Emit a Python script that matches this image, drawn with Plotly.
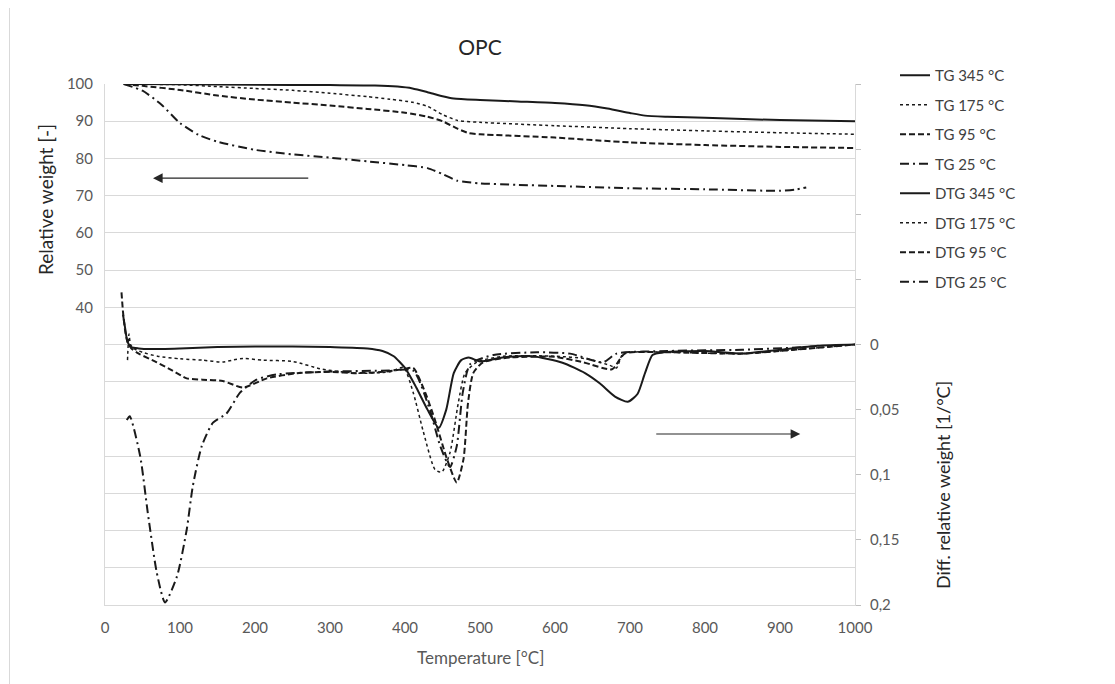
import plotly.graph_objects as go

# ---------------- data ----------------
tg345_t = [25, 100, 200, 300, 360, 390, 410, 430, 450, 465, 500, 550, 600, 640, 670, 700, 720, 750, 800, 900, 1000]
tg345_w = [100, 99.9, 99.8, 99.7, 99.6, 99.3, 98.8, 97.8, 96.7, 96.1, 95.7, 95.3, 94.9, 94.3, 93.4, 92.2, 91.5, 91.2, 90.9, 90.3, 90.0]

tg175_t = [25, 100, 150, 200, 250, 300, 350, 380, 410, 430, 450, 470, 500, 600, 700, 800, 900, 1000]
tg175_w = [100, 99.8, 99.3, 98.8, 98.3, 97.5, 96.6, 95.9, 95.1, 94.0, 91.8, 90.2, 89.7, 88.8, 88.0, 87.4, 86.9, 86.5]

tg95_t = [25, 50, 100, 150, 200, 250, 300, 350, 400, 430, 450, 470, 485, 500, 600, 700, 800, 900, 1000]
tg95_w = [100, 99.5, 98.4, 96.9, 95.8, 95.0, 94.2, 93.3, 92.3, 91.2, 90.0, 88.0, 86.8, 86.5, 85.6, 84.3, 83.6, 83.1, 82.8]

tg25_t = [25, 50, 75, 100, 125, 150, 200, 250, 300, 350, 400, 430, 450, 470, 500, 550, 600, 700, 800, 900, 920, 935]
tg25_w = [100, 98.2, 94.5, 89.5, 86.3, 84.5, 82.3, 81.1, 80.2, 79.2, 78.2, 77.4, 75.8, 74.0, 73.3, 72.9, 72.6, 72.0, 71.7, 71.3, 71.6, 72.2]

dtg345_t = [24, 27, 30, 35, 45, 60, 100, 150, 200, 250, 300, 350, 370, 385, 400, 415, 430, 445, 455, 465, 475, 485, 500,
            530, 570, 610, 640, 660, 680, 697, 710, 720, 730, 745, 800, 850, 900, 950, 1000]
dtg345_v = [-0.023, -0.012, -0.002, 0.002, 0.003, 0.0035, 0.003, 0.002, 0.0015, 0.0015, 0.002, 0.003, 0.005, 0.009, 0.018,
            0.033, 0.050, 0.064, 0.050, 0.022, 0.012, 0.010, 0.013, 0.010, 0.009, 0.014, 0.022, 0.030, 0.040, 0.044, 0.038,
            0.022, 0.008, 0.006, 0.005, 0.007, 0.004, 0.001, 0.0]

dtg175_t = [30, 32, 34, 38, 50, 70, 100, 130, 157, 170, 184, 210, 250, 290, 336, 380, 398, 411, 424, 440, 449, 460, 471,
            480, 496, 531, 600, 642, 673, 682, 691, 750, 850, 900, 1000]
dtg175_v = [0.012, -0.008, 0.0, 0.003, 0.006, 0.009, 0.011, 0.012, 0.0135, 0.012, 0.0107, 0.012, 0.013, 0.019, 0.022, 0.021,
            0.0175, 0.037, 0.066, 0.096, 0.098, 0.083, 0.045, 0.022, 0.0135, 0.009, 0.009, 0.011, 0.016, 0.018, 0.007,
            0.006, 0.007, 0.005, 0.0]

dtg95_t = [22, 24, 27, 30, 35, 45, 69, 90, 109, 130, 157, 184, 216, 256, 300, 336, 370, 397, 411, 427, 440, 456, 469, 478,
           484, 491, 504, 540, 600, 638, 676, 693, 750, 850, 900, 1000]
dtg95_v = [-0.040, -0.025, -0.010, -0.002, 0.003, 0.007, 0.0137, 0.020, 0.026, 0.027, 0.028, 0.033, 0.026, 0.022, 0.021,
           0.022, 0.021, 0.019, 0.018, 0.037, 0.058, 0.088, 0.106, 0.088, 0.045, 0.022, 0.0137, 0.010, 0.0095, 0.0137,
           0.019, 0.007, 0.006, 0.007, 0.005, 0.0]

dtg25_t = [29, 33, 47, 57, 69, 80, 96, 109, 117, 129, 144, 162, 180, 202, 229, 291, 380, 411, 433, 447, 460, 469, 477,
           487, 518, 576, 620, 664, 682, 750, 850, 935]
dtg25_v = [0.058, 0.055, 0.086, 0.129, 0.175, 0.198, 0.178, 0.142, 0.109, 0.078, 0.060, 0.053, 0.037, 0.027, 0.023, 0.021,
           0.020, 0.020, 0.050, 0.078, 0.094, 0.078, 0.037, 0.015, 0.008, 0.006, 0.007, 0.0137, 0.007, 0.005, 0.004, 0.002]

x_ticks = [0, 100, 200, 300, 400, 500, 600, 700, 800, 900, 1000]
left_ticks = [-40, -30, -20, -10, 0, 10, 20, 30, 40, 50, 60, 70, 80, 90, 100]
left_labels = ["", "", "", "", "", "", "", "", "40", "50", "60", "70", "80", "90", "100"]
right_ticks = [-0.2, -0.15, -0.1, -0.05, 0, 0.05, 0.1, 0.15, 0.2]
right_labels = ["", "", "", "", "0", "0,05", "0,1", "0,15", "0,2"]

# ---------------- figure ----------------
FONT = "Lato"
TXT = "#595959"
INK = "#1a1a1a"

# page body has an 8px offset; plot area placed so that it lands on x 105..855, y 84..605
OFF = 8
PL, PR, PT, PB = 105 - OFF, 855 - OFF, 84 - OFF, 605 - OFF
W, H = 1115, 684

fig = go.Figure()

series = [
    ("TG 345 °C", tg345_t, tg345_w, "y", "solid", 2.0),
    ("TG 175 °C", tg175_t, tg175_w, "y", "dot", 1.5),
    ("TG 95 °C", tg95_t, tg95_w, "y", "6px,3px", 2.0),
    ("TG 25 °C", tg25_t, tg25_w, "y", "9px,4px,2px,4px", 2.0),
    ("DTG 345 °C", dtg345_t, dtg345_v, "y2", "solid", 2.0),
    ("DTG 175 °C", dtg175_t, dtg175_v, "y2", "dot", 1.5),
    ("DTG 95 °C", dtg95_t, dtg95_v, "y2", "6px,3px", 2.0),
    ("DTG 25 °C", dtg25_t, dtg25_v, "y2", "9px,4px,2px,4px", 2.0),
]
for i, (name, xs, ys, ax, dash, w) in enumerate(series):
    fig.add_trace(go.Scatter(
        x=xs, y=ys, name=name, mode="lines", yaxis=ax,
        legendgroup=f"g{i}",
        line=dict(color=INK, width=w, dash=dash, shape="spline", smoothing=0.6),
    ))

fig.update_layout(
    width=W, height=H,
    margin=dict(l=PL, r=W - PR, t=PT, b=H - PB, autoexpand=False),
    paper_bgcolor="white", plot_bgcolor="white",
    font=dict(family=FONT, size=15, color=TXT),
    title=dict(text="OPC", x=(480 - OFF) / W, xanchor="center", y=1 - (48 - OFF) / H, yanchor="middle",
               font=dict(family=FONT, size=21, color="#262626")),
    xaxis=dict(range=[0, 1000], tickvals=x_ticks, ticktext=[str(v) for v in x_ticks],
               showgrid=False, zeroline=False, showline=True, linecolor="#d9d9d9", linewidth=1,
               ticks="", ticklabelstandoff=9, tickfont=dict(size=15, color=TXT)),
    yaxis=dict(range=[-40, 100], tickvals=left_ticks, ticktext=left_labels,
               showgrid=True, gridcolor="#d9d9d9", gridwidth=1, zeroline=False,
               showline=True, linecolor="#d9d9d9", ticks="", ticklabelstandoff=8,
               tickfont=dict(size=15, color=TXT)),
    yaxis2=dict(range=[0.2, -0.2], overlaying="y", side="right", tickvals=right_ticks, ticktext=right_labels,
                showgrid=False, zeroline=False, showline=True, linecolor="#d9d9d9",
                ticks="outside", ticklen=5, tickcolor="#bfbfbf", ticklabelstandoff=6,
                tickfont=dict(size=15, color=TXT)),
    legend=dict(x=(895 - 105) / 750, y=(605 - 59) / 521, xanchor="left", yanchor="top",
                tracegroupgap=7, font=dict(size=15, color="#404040"), bgcolor="rgba(0,0,0,0)"),
    showlegend=True,
)

annotations = [
    dict(text="Temperature [°C]", xref="paper", yref="paper", x=0.5, y=-(657 - 605) / 521,
         showarrow=False, xanchor="center", yanchor="middle", font=dict(size=17, color=TXT)),
    dict(text="Relative weight [-]", xref="paper", yref="paper", x=(45 - 105) / 750, y=(605 - 200) / 521,
         textangle=-90, showarrow=False, xanchor="center", yanchor="middle", font=dict(size=19, color="#262626")),
    dict(text="Diff. relative weight [1/°C]", xref="paper", yref="paper", x=(943 - 105) / 750, y=(605 - 485) / 521,
         textangle=-90, showarrow=False, xanchor="center", yanchor="middle", font=dict(size=18, color="#262626")),
    dict(text="", x=64, y=74.7, xref="x", yref="y", ax=273, ay=74.7, axref="x", ayref="y",
         showarrow=True, arrowhead=2, arrowsize=1.6, arrowwidth=1.2, arrowcolor="#262626"),
    dict(text="", x=927, y=0.0687, xref="x", yref="y2", ax=733, ay=0.0687, axref="x", ayref="y2",
         showarrow=True, arrowhead=2, arrowsize=1.6, arrowwidth=1.2, arrowcolor="#262626"),
]
fig.update_layout(annotations=annotations)

fig.add_shape(type="line", xref="paper", yref="paper", x0=(9.5 - 105) / 750, x1=(9.5 - 105) / 750,
              y0=(605 - 0) / 521, y1=(605 - 684) / 521, line=dict(color="#d9d9d9", width=1))

fig.write_html("out.html")
